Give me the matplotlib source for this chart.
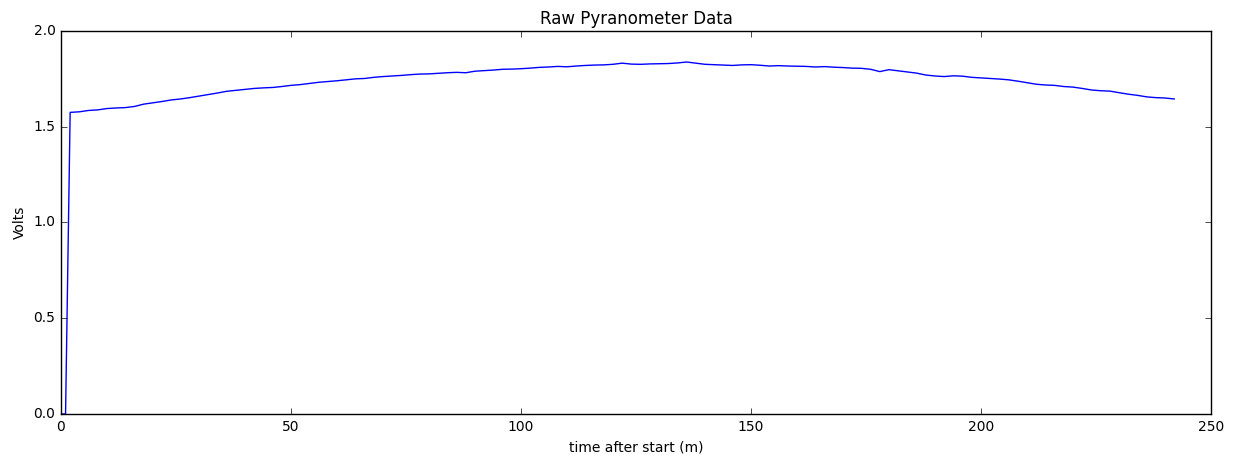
import numpy as np
import matplotlib
matplotlib.use('Agg')
from matplotlib import pyplot as plt

plt.style.use('classic')

# minutes after start (first two samples read 0 V)
minutes = [0, 1] + list(range(2, 243, 2))
volts = [
    0.0, 0.0,
    1.575, 1.578, 1.585, 1.588, 1.595, 1.598, 1.600, 1.606, 1.618, 1.625,
    1.632, 1.640, 1.645, 1.652, 1.660, 1.668, 1.676, 1.685, 1.690, 1.695,
    1.700, 1.703, 1.705, 1.710, 1.716, 1.720, 1.726, 1.732, 1.736, 1.740,
    1.745, 1.750, 1.752, 1.758, 1.762, 1.765, 1.768, 1.772, 1.775, 1.776,
    1.779, 1.782, 1.784, 1.782, 1.790, 1.793, 1.796, 1.800, 1.801, 1.803,
    1.806, 1.810, 1.812, 1.815, 1.813, 1.817, 1.820, 1.822, 1.823, 1.826,
    1.832, 1.827, 1.826, 1.828, 1.829, 1.830, 1.833, 1.838, 1.832, 1.826,
    1.824, 1.822, 1.820, 1.823, 1.824, 1.821, 1.817, 1.819, 1.817, 1.816,
    1.815, 1.812, 1.814, 1.811, 1.809, 1.806, 1.805, 1.800, 1.788, 1.798,
    1.792, 1.786, 1.780, 1.770, 1.765, 1.762, 1.766, 1.764, 1.758, 1.755,
    1.752, 1.749, 1.745, 1.738, 1.730, 1.722, 1.718, 1.716, 1.710, 1.707,
    1.700, 1.692, 1.688, 1.686, 1.678, 1.670, 1.664, 1.656, 1.652, 1.650,
    1.645,
]

fig = plt.figure(figsize=(12.39, 4.55), dpi=100, facecolor='white')
ax = fig.add_axes([0.0492, 0.0901, 0.9282, 0.8418])
ax.plot(minutes, volts, color='b', linewidth=1.0)
ax.set_xlim(0, 250)
ax.set_ylim(0, 2.0)
ax.set_xticks(np.arange(0, 251, 50))
ax.set_yticks(np.arange(0, 2.01, 0.5))
ax.tick_params(labelsize=10)
ax.set_title('Raw Pyranometer Data', fontsize=12)
ax.set_xlabel('time after start (m)', fontsize=10)
ax.set_ylabel('Volts', fontsize=10)

fig.savefig('out.png', dpi=100, facecolor='white')
